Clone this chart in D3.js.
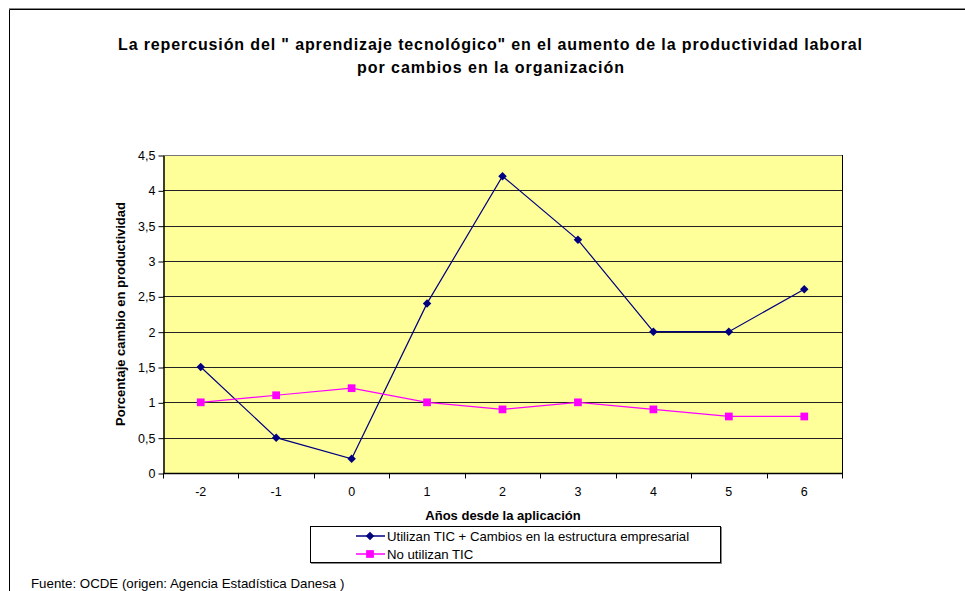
<!DOCTYPE html>
<html>
<head>
<meta charset="utf-8">
<script src="https://cdn.jsdelivr.net/npm/d3@7"></script>
<style>
  body { margin: 0; background: #fff; }
  svg { display: block; font-family: "Liberation Sans", Arial, sans-serif; }
</style>
</head>
<body>
<div id="chart"></div>
<script>
const years = ["-2", "-1", "0", "1", "2", "3", "4", "5", "6"]
const conCambios = [1.5, 0.5, 0.2, 2.4, 4.2, 3.3, 2.0, 2.0, 2.6]
const sinTic = [1.0, 1.1, 1.2, 1.0, 0.9, 1.0, 0.9, 0.8, 0.8]
const yTicks = [0, 0.5, 1, 1.5, 2, 2.5, 3, 3.5, 4, 4.5]
const seriesNames = ["Utilizan TIC + Cambios en la estructura empresarial", "No utilizan TIC"]

const width = 965, height = 591
const plot = {left: 163, top: 155, right: 842, bottom: 473}

// rombo cuadrado (el de d3 es muy alargado)
const squareDiamond = {
  draw(context, size) {
    const r = Math.sqrt(size / 2)
    context.moveTo(0, -r)
    context.lineTo(r, 0)
    context.lineTo(0, r)
    context.lineTo(-r, 0)
    context.closePath()
  }
}

const svg = d3.select("#chart").append("svg")
  .attr("width", width)
  .attr("height", height)

// marco exterior
svg.append("path")
  .attr("d", `M9.5,${height} V9.5 H${width}`)
  .attr("fill", "none")
  .attr("stroke", "#000")
  .attr("stroke-width", 1)
svg.append("line")
  .attr("x1", 9).attr("x2", width).attr("y1", 8.5).attr("y2", 8.5)
  .attr("stroke", "#888")

// titulo
const title = svg.append("g")
  .attr("font-size", 16)
  .attr("font-weight", "bold")
title.append("text").attr("x", 118).attr("y", 50)
  .attr("textLength", 744).attr("lengthAdjust", "spacing")
  .text("La repercusión del \" aprendizaje tecnológico\"  en el aumento de la productividad laboral")
title.append("text").attr("x", 357).attr("y", 73)
  .attr("textLength", 267).attr("lengthAdjust", "spacing")
  .text("por cambios en la organización")

const x = d3.scaleBand().domain(years).range([plot.left, plot.right])
const y = d3.scaleLinear().domain([0, 4.5]).range([plot.bottom, plot.top])

// fondo
svg.append("rect")
  .attr("x", plot.left).attr("y", plot.top)
  .attr("width", plot.right - plot.left)
  .attr("height", plot.bottom - plot.top)
  .attr("fill", "#FFFF99")

// rejilla
svg.append("g")
  .selectAll("line")
  .data(yTicks.filter(d => d > 0))
  .join("line")
  .attr("x1", plot.left).attr("x2", plot.right)
  .attr("y1", d => Math.round(y(d)) + 0.5)
  .attr("y2", d => Math.round(y(d)) + 0.5)
  .attr("stroke", d => d === 4.5 ? "#777" : "#222")

// borde derecho
svg.append("line")
  .attr("x1", plot.right + 0.5).attr("x2", plot.right + 0.5)
  .attr("y1", plot.top).attr("y2", plot.bottom + 4)
  .attr("stroke", "#000")

// eje Y
const yAxis = svg.append("g")
  .attr("transform", `translate(${plot.left + 0.5},0.5)`)
  .call(d3.axisLeft(y).tickValues(yTicks).tickSize(5).tickSizeOuter(0)
    .tickFormat(d => String(d).replace(".", ",")))
yAxis.selectAll("text").attr("font-size", 12.5).attr("fill", "#000").attr("font-family", "Liberation Sans, Arial, sans-serif")
yAxis.selectAll("line, path").attr("stroke", "#000")
yAxis.select("path").attr("stroke-width", 1.5)

// eje X
const xAxis = svg.append("g")
  .attr("transform", `translate(0,${plot.bottom + 0.5})`)
xAxis.append("line")
  .attr("x1", plot.left).attr("x2", plot.right)
  .attr("stroke", "#000").attr("stroke-width", 1.5)
xAxis.selectAll("line.tick")
  .data(years.concat(["end"]))
  .join("line")
  .attr("class", "tick")
  .attr("x1", (d, i) => Math.round(plot.left + i * x.step()) + 0.5)
  .attr("x2", (d, i) => Math.round(plot.left + i * x.step()) + 0.5)
  .attr("y1", 0).attr("y2", 5)
  .attr("stroke", "#000")
xAxis.selectAll("text")
  .data(years)
  .join("text")
  .attr("x", d => x(d) + x.bandwidth() / 2)
  .attr("y", 22)
  .attr("text-anchor", "middle")
  .attr("font-size", 12.5)
  .text(d => d)

// titulos de ejes
svg.append("text")
  .attr("transform", `translate(125,314) rotate(-90)`)
  .attr("text-anchor", "middle")
  .attr("font-size", 13)
  .attr("font-weight", "bold")
  .text("Porcentaje cambio en productividad")
svg.append("text")
  .attr("x", 503).attr("y", 520)
  .attr("text-anchor", "middle")
  .attr("font-size", 13)
  .attr("font-weight", "bold")
  .text("Años desde la aplicación")

// series
const series = [
  {name: seriesNames[0], values: conCambios, color: "#000080", shape: squareDiamond, size: 36},
  {name: seriesNames[1], values: sinTic, color: "#FF00FF", shape: d3.symbolSquare, size: 60}
]
const cx = d => x(d) + x.bandwidth() / 2
const line = d3.line().x((d, i) => cx(years[i])).y(d => y(d))

series.forEach(s => {
  svg.append("path")
    .datum(s.values)
    .attr("d", line)
    .attr("fill", "none")
    .attr("stroke", s.color)
    .attr("stroke-width", 1.2)
  svg.append("g").selectAll("path")
    .data(s.values)
    .join("path")
    .attr("transform", (d, i) => `translate(${cx(years[i])},${y(d)})`)
    .attr("d", d3.symbol().type(s.shape).size(s.size))
    .attr("fill", s.color)
})

// leyenda
const legend = svg.append("g")
legend.append("rect")
  .attr("x", 310.5).attr("y", 526.5)
  .attr("width", 410).attr("height", 36)
  .attr("fill", "#fff")
  .attr("stroke", "#000")
legend.append("line")
  .attr("x1", 311).attr("x2", 721).attr("y1", 563.5).attr("y2", 563.5)
  .attr("stroke", "#888")
legend.append("line")
  .attr("x1", 721.5).attr("x2", 721.5).attr("y1", 527).attr("y2", 564)
  .attr("stroke", "#888")
const items = legend.selectAll("g.item")
  .data(series)
  .join("g")
  .attr("class", "item")
  .attr("transform", (d, i) => `translate(0,${536 + i * 18})`)
items.append("line")
  .attr("x1", 356).attr("x2", 385)
  .attr("stroke", d => d.color).attr("stroke-width", 1.5)
items.append("path")
  .attr("transform", "translate(370,0)")
  .attr("d", d => d3.symbol().type(d.shape).size(d.size)())
  .attr("fill", d => d.color)
items.append("text")
  .attr("x", 387).attr("y", 5)
  .attr("font-size", 13.2)
  .text(d => d.name)

// fuente
svg.append("text")
  .attr("x", 31).attr("y", 588)
  .attr("font-size", 13.3)
  .text("Fuente: OCDE (origen: Agencia Estadística Danesa )")
</script>
</body>
</html>
